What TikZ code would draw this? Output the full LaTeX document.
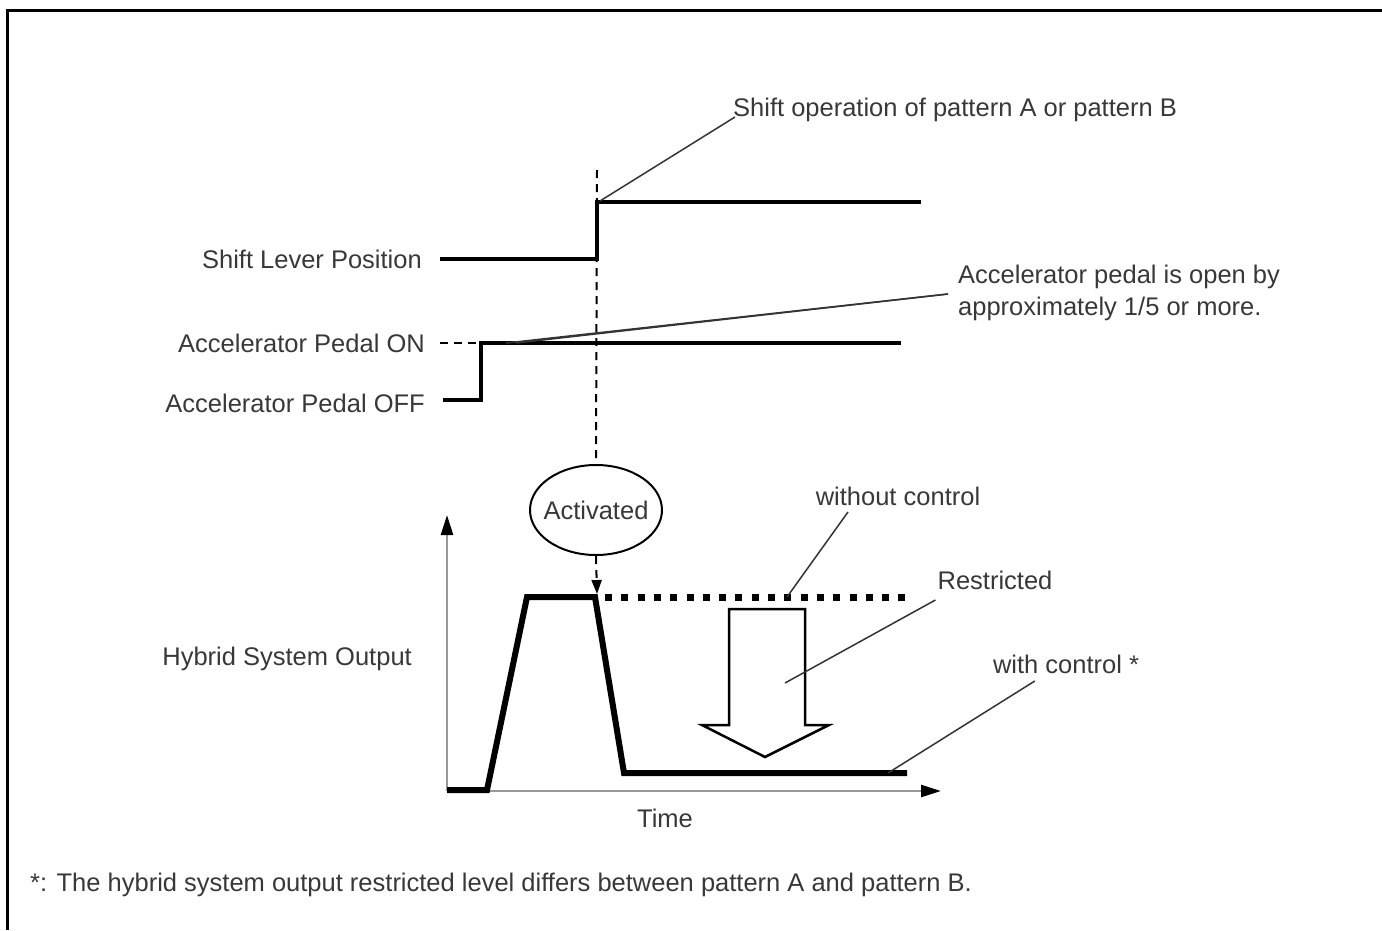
\documentclass[tikz,border=0pt]{standalone}
\usepackage{fontspec}
\setmainfont{Liberation Sans}
\usetikzlibrary{arrows.meta,shapes.geometric}
\begin{document}
\begin{tikzpicture}[x=1pt,y=-1pt,
  lbl/.style={text=black!78,font=\fontsize{25.5}{30}\selectfont,inner sep=0pt},
  sig/.style={line width=4.5pt},
  lead/.style={line width=1.5pt,black!80},
  vdash/.style={line width=2pt,dash pattern=on 8pt off 6pt},
  ax/.style={line width=2.5pt,black!40,-{Triangle[length=20pt,width=12pt,color=black]}}]
\useasboundingbox (0,0) rectangle (1382,930);
\draw[line width=3pt] (7,930) -- (7,10) -- (1382,10);

% upper signals
\node[lbl,anchor=base west] (shiftop) at (733,116) {Shift operation of pattern A or pattern B};
\node[lbl,anchor=base east] (lever) at (422,268) {Shift Lever Position};
\node[lbl,anchor=base east] (accon) at (425,352) {Accelerator Pedal ON};
\node[lbl,anchor=base east] (accoff) at (425,412) {Accelerator Pedal OFF};
\node[lbl,anchor=base west] (open1) at (958,283) {Accelerator pedal is open by};
\node[lbl,anchor=base west] (open2) at (958,315) {approximately 1/5 or more.};

\draw[sig] (440,259) -- (597,259) -- (597,202) -- (921,202);
\draw[vdash] (440,343) -- (478,343);
\draw[sig] (443,400) -- (481,400) -- (481,343) -- (901,343);

\coordinate (shiftpt) at (600,201);
\coordinate (accpt) at (506,343);
\coordinate (accpt2) at (516,343);
\draw[lead] ([shift={(2pt,-1pt)}]shiftop.base west) -- (shiftpt);
\draw[lead] ([shift={(-10pt,-11pt)}]open1.base west) -- (accpt);
\draw[lead] ([shift={(-10pt,-11pt)}]open1.base west) -- (accpt2);

% activation
\node[lbl,draw=black,line width=2pt,ellipse,inner xsep=-6pt,minimum width=132pt,minimum height=90pt] (act) at (596,510) {Activated};
\draw[vdash] (597,170) -- (act.north);
\draw[vdash,-{Triangle[length=14pt,width=10pt]}] (act.south) -- (597,594);

% output graph
\node[lbl,anchor=base east] (hso) at (412,665) {Hybrid System Output};
\node[lbl,anchor=base] (time) at (665,827) {Time};
\draw[ax] (447,791) -- (447,515);
\draw[ax] (447,791) -- (941,791);

\draw[line width=6pt] (447,790) -- (487,790) -- (527,597) -- (595,597) -- (624,773) -- (907,773);
\draw[line width=7pt,dash pattern=on 7pt off 9.3pt] (605,597) -- (905,597);
\draw[line width=2.5pt] (729,609) -- (805,609) -- (805,725) -- (829,725) -- (765,757)
  -- (702,725) -- (729,725) -- cycle;

\node[lbl,anchor=base] (woc) at (898,505) {without control};
\node[lbl,anchor=base] (restr) at (995,589) {Restricted};
\node[lbl,anchor=base] (wc) at (1066,673) {with control *};
\coordinate (wocpt) at (787,597);
\coordinate (restrpt) at (785,683);
\coordinate (wcpt) at (888,773);
\draw[lead] ([shift={(-50pt,-7pt)}]woc.base) -- (wocpt);
\draw[lead] ([shift={(-2pt,-11pt)}]restr.base west) -- (restrpt);
\draw[lead] ([shift={(42pt,-8pt)}]wc.base west) -- (wcpt);

\node[lbl,anchor=base west] (note) at (30,891) {*: The hybrid system output restricted level differs between pattern A and pattern B.};
\end{tikzpicture}
\end{document}
